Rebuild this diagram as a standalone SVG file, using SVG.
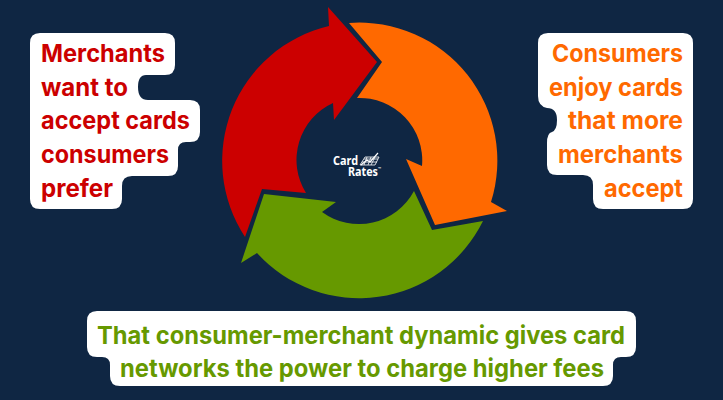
<svg xmlns="http://www.w3.org/2000/svg" width="723" height="400" viewBox="0 0 723 400">
<style>
.blob{fill:#fff}
.t{font-family:"Inter","Liberation Sans",sans-serif;font-weight:700;font-size:24.500px}
.l{fill:#cc0000}
.r{fill:#ff6900;text-anchor:end}
.b{fill:#669900;text-anchor:middle}
.logo{font-family:"Noto Sans","Liberation Sans",sans-serif;font-weight:700;fill:#fff;font-size:11.500px}
.ic{fill:none;stroke:#fff;stroke-width:.8}
</style>
<rect width="723" height="400" fill="#0f2643"/>
<g id="connectors">
<path id="arrow-red" fill="#cc0000" d="M245 237A138.500 138.500 0 0 1 329 26L328 7L377 62L334 120L333 103A62.500 62.500 0 0 0 306 193L262 189Z"/>
<path id="arrow-orange" fill="#ff6900" d="M349 23A138 138 0 0 1 491 202L507 211L435 225L406 159L422 166A62.500 62.500 0 0 0 357 98L382 62Z"/>
<path id="arrow-green" fill="#669900" d="M483 221A138 138 0 0 1 257 253L241 263L264 194L336 202L322 212A62.500 62.500 0 0 0 414 191L432 230Z"/>
</g>
<g id="node-merchants">
<path class="blob" d="M40 33H165Q175 33 175 43V65Q175 75 165 75H146Q138 75 138 87Q138 100 148 100H190Q200 100 200 110V132Q200 142 190 142H186Q178 142 178 150V166Q178 176 168 176H132Q122 176 122 186V199Q122 209 112 209H40Q30 209 30 199V43Q30 33 40 33Z"/>
<text class="t l" x="41" y="62" textLength="124" lengthAdjust="spacingAndGlyphs">Merchants</text>
<text class="t l" x="41" y="96" textLength="87" lengthAdjust="spacingAndGlyphs">want to</text>
<text class="t l" x="41" y="129" textLength="149" lengthAdjust="spacingAndGlyphs">accept cards</text>
<text class="t l" x="41" y="163" textLength="128" lengthAdjust="spacingAndGlyphs">consumers</text>
<text class="t l" x="41" y="197" textLength="72" lengthAdjust="spacingAndGlyphs">prefer</text>
</g>
<g id="node-consumers">
<path class="blob" d="M548 33H683Q693 33 693 43V199Q693 209 683 209H603Q593 209 593 199V185Q593 175 583 175H557Q547 175 547 165V143Q547 133 552 132Q557 130 557 120Q557 108 547 108Q538 106 538 96V43Q538 33 548 33Z"/>
<text class="t r" x="683" y="62" textLength="131" lengthAdjust="spacingAndGlyphs">Consumers</text>
<text class="t r" x="683" y="96" textLength="134" lengthAdjust="spacingAndGlyphs">enjoy cards</text>
<text class="t r" x="683" y="129" textLength="115" lengthAdjust="spacingAndGlyphs">that more</text>
<text class="t r" x="683" y="163" textLength="125" lengthAdjust="spacingAndGlyphs">merchants</text>
<text class="t r" x="683" y="197" textLength="79" lengthAdjust="spacingAndGlyphs">accept</text>
</g>
<g id="node-networks">
<path class="blob" d="M97 311H626Q636 311 636 321V347Q636 357 626 357H621Q613 357 613 365V376Q613 386 603 386H120Q110 386 110 376V365Q110 357 102 357H97Q87 357 87 347V321Q87 311 97 311Z"/>
<text class="t b" x="361" y="344" textLength="528" lengthAdjust="spacingAndGlyphs">That consumer-merchant dynamic gives card</text>
<text class="t b" x="362" y="377" textLength="484" lengthAdjust="spacingAndGlyphs">networks the power to charge higher fees</text>
</g>
<g id="node-logo">
<text class="logo" x="333" y="165" textLength="25" lengthAdjust="spacingAndGlyphs">Card</text>
<text class="logo" x="348" y="175.500" textLength="30" lengthAdjust="spacingAndGlyphs">Rates</text>
<text class="logo" x="378" y="170" style="font-size:4px">™</text>
<path class="ic" d="M360 165L365 157H379L375 165ZM362 162H377M364 159H378M367 157L364 165M371 157L368 165M375 157L371 165"/>
<path class="ic" style="stroke-width:1.200" d="M361 165L367 160L370 162L378 153"/>
</g>
</svg>
